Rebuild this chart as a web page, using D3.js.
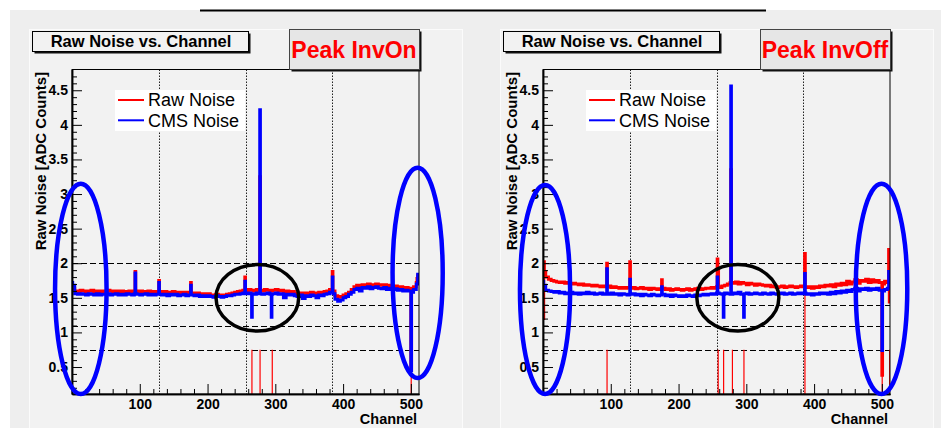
<!DOCTYPE html>
<html>
<head>
<meta charset="utf-8">
<script src="https://cdn.jsdelivr.net/npm/d3@7"></script>
<style>
body { margin: 0; background: #fff; }
svg { display: block; font-family: "Liberation Sans", Arial, Helvetica, sans-serif; }
</style>
</head>
<body>
<div id="chart-area"></div>
<script>
// Panel titles
var panelTitles = ["Peak InvOn", "Peak InvOff"];
var seriesNames = ["Raw Noise", "CMS Noise"];

// Noise per group of 4 channels (128 groups -> 512 channels)
var rawInvOn = [
	1.63, 1.60, 1.59, 1.61, 1.60, 1.58, 1.60, 1.61, 1.59, 1.60, 1.58, 1.60, 1.59, 1.61, 1.60, 1.58, 1.60, 1.59, 1.60, 1.58, 1.59, 1.60, 1.58,
	1.60, 1.59, 1.60, 1.58, 1.59, 1.60, 1.58, 1.59, 1.58,
	1.59, 1.58, 1.59, 1.57, 1.58, 1.59, 1.57, 1.58, 1.57, 1.58, 1.56, 1.58,
	1.57, 1.56, 1.57, 1.55, 1.56, 1.55, 1.56,
	1.54, 1.53, 1.55, 1.54, 1.53, 1.54, 1.55, 1.56, 1.57, 1.58,
	1.59, 1.60, 1.61, 1.60, 1.62, 1.61, 1.60, 1.62, 1.61, 1.60, 1.62, 1.61, 1.60, 1.61, 1.62, 1.60, 1.61, 1.59, 1.60, 1.58, 1.59, 1.57,
	1.56, 1.57, 1.55, 1.57, 1.56, 1.58, 1.57, 1.56, 1.58, 1.57, 1.59, 1.60, 1.62,
	1.60,
	1.53, 1.51, 1.52, 1.54, 1.56, 1.58,
	1.62, 1.66, 1.68, 1.67, 1.69, 1.68, 1.70, 1.69, 1.68, 1.70, 1.69, 1.68, 1.69, 1.67, 1.68,
	1.66, 1.67, 1.65, 1.66, 1.64, 1.65, 1.64,
	1.62, 1.66, 1.72
];
var cmsInvOn = [
	1.68, 1.56, 1.55, 1.56, 1.55, 1.54, 1.56, 1.55, 1.54, 1.56, 1.54, 1.55, 1.55, 1.56, 1.54, 1.55, 1.56, 1.54, 1.55, 1.54, 1.56, 1.55, 1.54,
	1.56, 1.55, 1.54, 1.55, 1.56, 1.54, 1.55, 1.54, 1.55,
	1.55, 1.54, 1.55, 1.53, 1.55, 1.54, 1.55, 1.53, 1.54, 1.55, 1.53, 1.54,
	1.54, 1.53, 1.54, 1.52, 1.53, 1.52, 1.53,
	1.52, 1.51, 1.53, 1.52, 1.51, 1.52, 1.53, 1.53, 1.54, 1.55,
	1.55, 1.56, 1.57, 1.56, 1.57, 1.56, 1.55, 1.57, 1.56, 1.55, 1.56, 1.57, 1.55, 1.56, 1.57, 1.55, 1.56, 1.50, 1.55, 1.54, 1.55, 1.53,
	1.52, 1.54, 1.49, 1.53, 1.52, 1.54, 1.53, 1.50, 1.54, 1.53, 1.55, 1.56, 1.58,
	1.56,
	1.48, 1.45, 1.47, 1.50, 1.52, 1.55,
	1.58, 1.62, 1.64, 1.60, 1.65, 1.64, 1.66, 1.63, 1.65, 1.66, 1.64, 1.63, 1.65, 1.62, 1.64,
	1.62, 1.63, 1.61, 1.62, 1.60, 1.61, 1.60,
	1.58, 1.62, 1.70
];
var rawInvOff = [
	1.88, 1.80, 1.77, 1.75, 1.74, 1.73, 1.72, 1.73, 1.71, 1.72, 1.70, 1.71, 1.70, 1.69, 1.70, 1.68, 1.69, 1.68, 1.67, 1.68, 1.67, 1.66, 1.67,
	1.66, 1.67, 1.65, 1.66, 1.65, 1.64, 1.65, 1.64, 1.65,
	1.64, 1.65, 1.63, 1.64, 1.65, 1.63, 1.64, 1.62, 1.64, 1.63, 1.62, 1.63,
	1.64, 1.62, 1.63, 1.61, 1.62, 1.63, 1.62,
	1.61, 1.62, 1.63, 1.61, 1.62, 1.63, 1.64, 1.62, 1.63, 1.64,
	1.64, 1.65, 1.64, 1.66, 1.65, 1.67, 1.68, 1.70, 1.72, 1.71, 1.73, 1.70, 1.72, 1.71, 1.69, 1.71, 1.70, 1.68, 1.70, 1.69, 1.68, 1.67,
	1.68, 1.66, 1.67, 1.65, 1.66, 1.67, 1.65, 1.66, 1.67, 1.66, 1.65, 1.66, 1.67,
	1.66,
	1.65, 1.66, 1.64, 1.66, 1.65, 1.67,
	1.66, 1.68, 1.67, 1.69, 1.66, 1.70, 1.68, 1.71, 1.69, 1.74, 1.70, 1.73, 1.76, 1.71, 1.75,
	1.74, 1.77, 1.72, 1.76, 1.73, 1.75, 1.72,
	1.70, 1.74, 1.72
];
var cmsInvOff = [
	1.68, 1.61, 1.60, 1.59, 1.58, 1.59, 1.57, 1.58, 1.56, 1.57, 1.58, 1.56, 1.57, 1.55, 1.57, 1.56, 1.58, 1.56, 1.57, 1.55, 1.56, 1.57, 1.55,
	1.56, 1.55, 1.57, 1.55, 1.56, 1.54, 1.56, 1.55, 1.54,
	1.55, 1.56, 1.54, 1.55, 1.53, 1.55, 1.54, 1.53, 1.55, 1.54, 1.53, 1.54,
	1.55, 1.53, 1.54, 1.52, 1.54, 1.53, 1.52,
	1.53, 1.52, 1.54, 1.53, 1.52, 1.54, 1.53, 1.54, 1.55, 1.54,
	1.55, 1.56, 1.55, 1.57, 1.56, 1.55, 1.57, 1.56, 1.55, 1.57, 1.56, 1.58, 1.55, 1.56, 1.57, 1.55, 1.56, 1.57, 1.56, 1.55, 1.57, 1.56,
	1.55, 1.57, 1.56, 1.55, 1.56, 1.57, 1.55, 1.56, 1.57, 1.55, 1.56, 1.57, 1.56,
	1.57,
	1.55, 1.56, 1.54, 1.56, 1.55, 1.57,
	1.56, 1.57, 1.55, 1.58, 1.56, 1.59, 1.57, 1.60, 1.58, 1.61, 1.59, 1.62, 1.64, 1.60, 1.63,
	1.62, 1.64, 1.61, 1.63, 1.62, 1.64, 1.61,
	1.60, 1.62, 1.64
];

// Single channels that stick out: [channel, noise]
var rawInvOnSpikes = [[93, 1.88], [128, 1.75], [175, 1.72], [255, 1.80], [277, 3.25], [384, 1.88], [500, 0.45], [509, 1.78], [510, 1.82]];
var cmsInvOnSpikes = [[0, 1.72], [93, 1.86], [128, 1.72], [175, 1.68], [255, 1.74], [265, 1.22], [277, 4.22], [294, 1.22], [384, 1.80], [500, 0.45], [510, 1.84]];
var rawInvOffSpikes = [[0, 1.20], [1, 2.02], [94, 2.0], [128, 2.02], [175, 1.76], [257, 2.06], [258, 1.90], [277, 3.35], [386, 2.14], [500, 0.38], [510, 2.20], [511, 1.44]];
var cmsInvOffSpikes = [[0, 1.74], [94, 1.92], [128, 1.77], [175, 1.66], [257, 1.80], [266, 1.22], [277, 4.56], [296, 1.22], [386, 1.85], [500, 0.74], [510, 1.88]];

// Flagged (bad) channels: [channel, flag top]
var badInvOn = [[265, 0.75], [277, 0.75], [295, 0.75], [500, 0.75]];
var badInvOff = [[0, 0.75], [94, 0.75], [258, 0.75], [266, 0.75], [279, 0.75], [296, 0.75], [386, 2.0], [500, 0.75], [511, 0.75]];

// Threshold lines and chip boundaries
var cutLines = [2.0, 1.4, 1.1, 0.75];
var chipEdges = [128, 256, 384];

// Hand drawn rings: [channel, noise, half width (ch), half height (noise), colour]
var ringsInvOn = [[13, 1.63, 38, 1.52, "#0000ff"], [510, 1.86, 37, 1.52, "#0000ff"], [273.5, 1.5, 61, 0.48, "#000"]];
var ringsInvOff = [[3, 1.62, 37, 1.51, "#0000ff"], [499.5, 1.63, 38, 1.52, "#0000ff"], [287.5, 1.5, 60.5, 0.48, "#000"]];

// Axis ticks
var yMajor = [0.5, 1, 1.5, 2, 2.5, 3, 3.5, 4, 4.5];
var xMajor = [100, 200, 300, 400, 500];

var width = 941, height = 428;
var frame = {left: 72, right: 419, top: 69.5, bottom: 394};
var panelShift = 471;

var svg = d3.select("#chart-area").append("svg")
	.attr("width", width)
	.attr("height", height);

// canvas
svg.append("rect")
	.attr("x", 10).attr("y", 10)
	.attr("width", width - 10).attr("height", height - 10)
	.attr("fill", "#eeeeee");

svg.append("line")
	.attr("x1", 200).attr("x2", 766)
	.attr("y1", 10.5).attr("y2", 10.5)
	.attr("stroke", "#000").attr("stroke-width", 2);

var x = d3.scaleLinear().domain([0, 512]).range([frame.left, frame.right]);
var y = d3.scaleLinear().domain([0.11, 4.8]).range([frame.bottom, frame.top]);

var buildSeries = function(base, spikes) {
	var vals = [];
	for (var ch = 0; ch < 512; ch++) {
		vals.push(base[Math.floor(ch / 4)]);
	}
	spikes.forEach(function(s) { vals[s[0]] = s[1]; });
	var pts = vals.map(function(v, i) { return {ch: i, v: v}; });
	pts.push({ch: 512, v: vals[511]});
	return pts;
};

var histLine = d3.line()
	.x(function(d) { return x(d.ch); })
	.y(function(d) { return y(d.v); })
	.curve(d3.curveStepAfter);

var panels = [
	{title: panelTitles[0], raw: buildSeries(rawInvOn, rawInvOnSpikes), cms: buildSeries(cmsInvOn, cmsInvOnSpikes), bad: badInvOn, rings: ringsInvOn},
	{title: panelTitles[1], raw: buildSeries(rawInvOff, rawInvOffSpikes), cms: buildSeries(cmsInvOff, cmsInvOffSpikes), bad: badInvOff, rings: ringsInvOff}
];

panels.forEach(function(p, i) {
	var g = svg.append("g").attr("transform", "translate(" + (i * panelShift) + ",0)");

	// pad
	g.append("rect")
		.attr("x", 29.5).attr("y", 29.5)
		.attr("width", 433).attr("height", 410)
		.attr("fill", "#f2f2f2")
		.attr("stroke", "#fbfbfb");

	g.append("clipPath").attr("id", "clip" + i)
		.append("rect")
		.attr("x", frame.left).attr("y", frame.top)
		.attr("width", frame.right - frame.left).attr("height", frame.bottom - frame.top);

	// chip boundaries
	g.selectAll(".chip").data(chipEdges).enter().append("line")
		.attr("x1", function(d) { return Math.round(x(d)) + 0.5; })
		.attr("x2", function(d) { return Math.round(x(d)) + 0.5; })
		.attr("y1", frame.top).attr("y2", frame.bottom)
		.attr("stroke", "#222").attr("stroke-dasharray", "1.5,1.5");

	// threshold lines
	g.selectAll(".cut").data(cutLines).enter().append("line")
		.attr("x1", frame.left).attr("x2", frame.right)
		.attr("y1", function(d) { return Math.round(y(d)) + 0.5; })
		.attr("y2", function(d) { return Math.round(y(d)) + 0.5; })
		.attr("stroke", "#000").attr("stroke-dasharray", "6,3");

	var plot = g.append("g").attr("clip-path", "url(#clip" + i + ")");

	// flagged channels
	plot.selectAll(".bad").data(p.bad).enter().append("line")
		.attr("x1", function(d) { return x(d[0] + 0.5); })
		.attr("x2", function(d) { return x(d[0] + 0.5); })
		.attr("y1", function(d) { return y(d[1]); }).attr("y2", frame.bottom + 2)
		.attr("stroke", "#ff0000").attr("stroke-width", 1.2);

	plot.append("path")
		.attr("d", histLine(p.raw))
		.attr("fill", "none")
		.attr("stroke", "#ff0000")
		.attr("stroke-width", 3);

	plot.append("path")
		.attr("d", histLine(p.cms))
		.attr("fill", "none")
		.attr("stroke", "#0000ff")
		.attr("stroke-width", 3);

	// frame
	g.append("rect")
		.attr("x", frame.left).attr("y", frame.top)
		.attr("width", frame.right - frame.left).attr("height", frame.bottom - frame.top)
		.attr("fill", "none").attr("stroke", "#000");

	// y axis
	var yAxis = d3.axisLeft(y).tickValues(yMajor).tickSize(-10).tickSizeOuter(0).tickPadding(4)
		.tickFormat(function(d) { return String(d); });
	g.append("g")
		.attr("transform", "translate(" + frame.left + ",0)")
		.call(yAxis)
		.attr("font-family", null).attr("font-size", 14).attr("font-weight", "bold");
	var yMinor = d3.range(2, 48).map(function(d) { return d / 10; })
		.filter(function(d) { return Math.round(d * 10) % 5 !== 0; });
	g.append("g")
		.attr("transform", "translate(" + frame.left + ",0)")
		.call(d3.axisLeft(y).tickValues(yMinor).tickSize(-5).tickSizeOuter(0).tickFormat(""));

	// x axis
	var xAxis = d3.axisBottom(x).tickValues(xMajor).tickSize(-10).tickSizeOuter(0).tickPadding(5);
	g.append("g")
		.attr("transform", "translate(0," + frame.bottom + ")")
		.call(xAxis)
		.attr("font-family", null).attr("font-size", 14).attr("font-weight", "bold");
	var xMinor = d3.range(20, 512, 20).filter(function(d) { return d % 100 !== 0; });
	g.append("g")
		.attr("transform", "translate(0," + frame.bottom + ")")
		.call(d3.axisBottom(x).tickValues(xMinor).tickSize(-5).tickSizeOuter(0).tickFormat(""));

	g.selectAll(".domain").attr("stroke-width", 1.5);

	// axis titles
	g.append("text")
		.attr("x", 417).attr("y", 424)
		.attr("text-anchor", "end")
		.attr("font-size", 14.5).attr("font-weight", "bold")
		.text("Channel");
	g.append("text")
		.attr("transform", "translate(46,72) rotate(-90)")
		.attr("text-anchor", "end")
		.attr("font-size", 15).attr("font-weight", "bold")
		.text("Raw Noise [ADC Counts]");

	// legend
	g.append("rect")
		.attr("x", 115).attr("y", 90)
		.attr("width", 130).attr("height", 41)
		.attr("fill", "#fff");
	var legendColors = ["#ff0000", "#0000ff"];
	seriesNames.forEach(function(name, k) {
		g.append("line")
			.attr("x1", 118).attr("x2", 144)
			.attr("y1", 100 + k * 20.3).attr("y2", 100 + k * 20.3)
			.attr("stroke", legendColors[k]).attr("stroke-width", 2);
		g.append("text")
			.attr("x", 148).attr("y", 106.3 + k * 20.3)
			.attr("font-size", 18)
			.text(name);
	});

	// rings
	g.selectAll(".ring").data(p.rings).enter().append("ellipse")
		.attr("cx", function(d) { return x(d[0]); })
		.attr("cy", function(d) { return y(d[1]); })
		.attr("rx", function(d) { return x(d[0] + d[2]) - x(d[0]); })
		.attr("ry", function(d) { return y(d[1] - d[3]) - y(d[1]); })
		.attr("fill", "none")
		.attr("stroke", function(d) { return d[4]; })
		.attr("stroke-width", function(d) { return d[4] === "#000" ? 3.5 : 4.5; });

	// title box
	g.append("rect")
		.attr("x", 34.5).attr("y", 33.5).attr("width", 216).attr("height", 20)
		.attr("fill", "#111");
	g.append("rect")
		.attr("x", 32.5).attr("y", 31.5).attr("width", 216).attr("height", 20)
		.attr("fill", "#f2f2f2").attr("stroke", "#000");
	g.append("text")
		.attr("x", 141).attr("y", 47)
		.attr("text-anchor", "middle")
		.attr("font-size", 16.5).attr("font-weight", "bold")
		.text("Raw Noise vs. Channel");

	// peak box
	g.append("rect")
		.attr("x", 291.5).attr("y", 31.5).attr("width", 130).attr("height", 40)
		.attr("fill", "#111");
	g.append("rect")
		.attr("x", 289.5).attr("y", 29.5).attr("width", 130).attr("height", 40)
		.attr("fill", "#e6e6e6").attr("stroke", "#444");
	g.append("text")
		.attr("x", 354).attr("y", 58.3)
		.attr("text-anchor", "middle")
		.attr("font-size", 23).attr("font-weight", "bold")
		.attr("fill", "#ff0000")
		.text(p.title);
});
</script>
</body>
</html>
